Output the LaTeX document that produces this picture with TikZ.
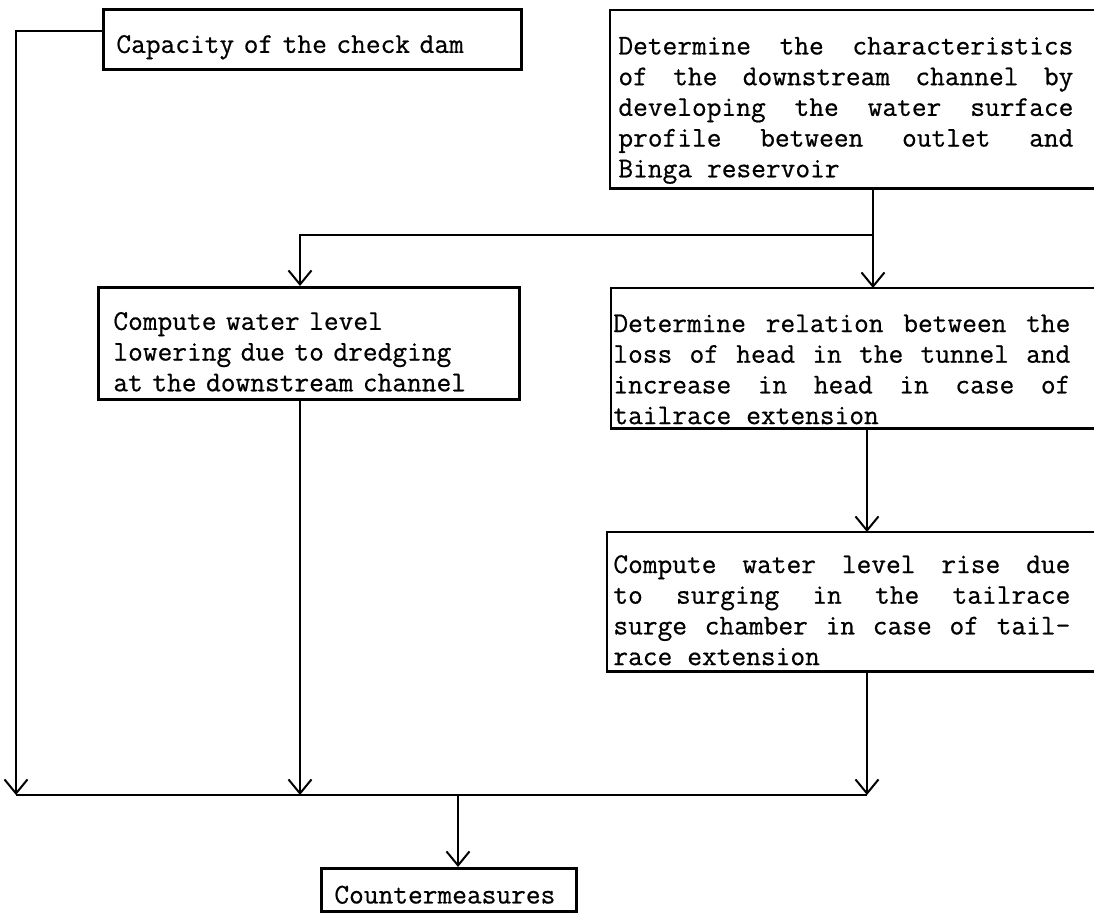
\documentclass[tikz,border=0pt]{standalone}
\usepackage{fontspec}
\setmonofont{Latin Modern Mono}[FakeBold=0.6]
\usetikzlibrary{arrows.meta}

\newcommand\boxfont{\fontsize{14.3}{15.35}\selectfont\ttfamily}
\newcommand\lift[1]{\rule{0pt}{#1}}

\begin{document}
\begin{tikzpicture}[x=0.5pt, y=-0.5pt, >={Straight Barb[length=7pt,width=11.5pt]},
  plainbox/.style={draw, line width=1.4pt, anchor=north west, font=\boxfont,
    align=left, inner ysep=0pt},
  justbox/.style={anchor=north west, font={\boxfont\spaceskip=7.5pt plus 30pt\relax},
    align=justify, inner ysep=0pt},
  boxline/.style={line width=1.4pt},
  link/.style={line width=1pt}]
  \useasboundingbox (0,0) rectangle (1094,912);

  % closed boxes on the left
  \node[plainbox, text width=196pt, inner xsep=6.5pt, minimum height=30pt] (cap) at (102,8)
    {\lift{16.75pt}Capacity of the check dam};
  \node[plainbox, text width=195.5pt, inner xsep=7.5pt, minimum height=56pt] (low) at (97,286)
    {\lift{17.25pt}Compute water level\\ lowering due to dredging\\ at the downstream channel};
  \node[plainbox, text width=114.5pt, inner xsep=6.5pt, minimum height=21.5pt] (cm) at (320,867)
    {\lift{13.75pt}Countermeasures};

  % justified boxes on the right (cut by the page edge)
  \node[justbox, text width=227.5pt, inner xsep=4pt, minimum height=89pt] (det) at (610,10)
    {\lift{19.75pt}Determine the characteristics\linebreak of the downstream channel by\linebreak
     developing the water surface\linebreak profile between outlet and\linebreak Binga reservoir};
  \node[justbox, text width=228.5pt, inner xsep=1pt, minimum height=70pt] (rel) at (611,288)
    {\lift{19.75pt}Determine relation between the\linebreak loss of head in the tunnel and\linebreak
     increase in head in case of\linebreak tailrace extension};
  \node[justbox, text width=228.5pt, inner xsep=3pt, minimum height=69.5pt] (rise) at (607,532)
    {\lift{17.25pt}Compute water level rise due\linebreak to surging in the tailrace\linebreak
     surge chamber in case of tail-\linebreak race extension};

  \coordinate (edge) at (1100,0);
  \foreach \n in {det, rel, rise}
    \draw[boxline] (\n.north west) rectangle (\n.south east -| edge);

  % junction points
  \coordinate (cA) at (16,31);
  \coordinate (cB) at (300,235);
  \coordinate (cC) at (873,235);
  \coordinate (cD) at (867,0);
  \coordinate (bus) at (458,795);

  % connectors
  \draw[link, ->] (cap.west |- cA) -- (cA) -- (cA |- bus);
  \draw[link, ->] (det.south -| cC) -- (rel.north -| cC);
  \draw[link, ->] (cC) -| (low.north -| cB);
  \draw[link, ->] (low.south -| cB) -- (bus -| cB);
  \draw[link, ->] (rel.south -| cD) -- (rise.north -| cD);
  \draw[link, ->] (rise.south -| cD) -- (bus -| cD);
  \draw[link] (bus -| cA) -- (bus -| cD);
  \draw[link, ->] (bus) -- (cm.north -| bus);
\end{tikzpicture}
\end{document}
